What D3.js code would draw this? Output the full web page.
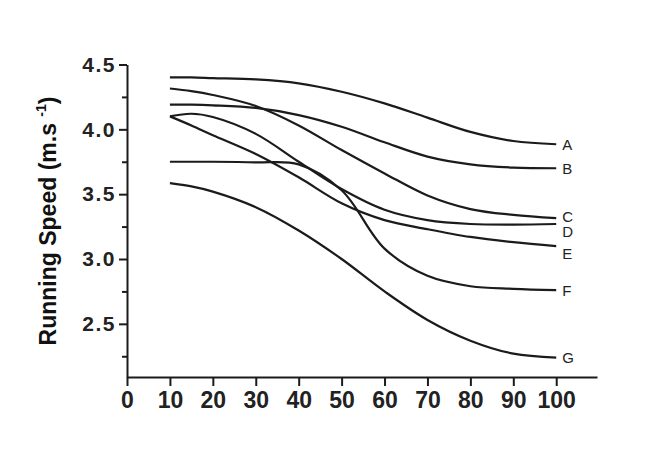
<!DOCTYPE html>
<html>
<head>
<meta charset="utf-8">
<script src="https://cdn.jsdelivr.net/npm/d3@7"></script>
<style>
  body { margin: 0; background: #fff; }
  svg { font-family: "Liberation Sans", Arial, sans-serif; }
</style>
</head>
<body>
<svg width="654" height="464"></svg>
<script>
// distance (% of race) at which each curve is read
const distances = [10, 15, 20, 30, 40, 50, 60, 70, 80, 90, 100]
const seriesNames = ["A", "B", "C", "D", "E", "F", "G"]
const speedA = [4.40, 4.40, 4.395, 4.385, 4.355, 4.29, 4.20, 4.09, 3.98, 3.91, 3.885]
const speedB = [4.19, 4.19, 4.185, 4.165, 4.11, 4.02, 3.90, 3.79, 3.73, 3.705, 3.70]
const speedC = [4.315, 4.295, 4.265, 4.18, 4.03, 3.84, 3.66, 3.49, 3.385, 3.34, 3.315]
const speedD = [4.10, 4.12, 4.095, 3.965, 3.75, 3.54, 3.38, 3.30, 3.27, 3.265, 3.27]
const speedE = [4.10, 4.03, 3.955, 3.81, 3.63, 3.43, 3.30, 3.23, 3.17, 3.13, 3.10]
const speedF = [3.75, 3.75, 3.75, 3.745, 3.73, 3.53, 3.08, 2.87, 2.79, 2.77, 2.76]
const speedG = [3.585, 3.56, 3.52, 3.40, 3.22, 3.00, 2.75, 2.53, 2.37, 2.27, 2.24]
const xTicks = [0, 10, 20, 30, 40, 50, 60, 70, 80, 90, 100]
const yTicks = [2.5, 3.0, 3.5, 4.0, 4.5]
const yMinorTicks = [2.25, 2.75, 3.25, 3.75, 4.25]

const allSpeeds = [speedA, speedB, speedC, speedD, speedE, speedF, speedG]

function draw(){
    const svg = d3.select("svg")
    const ink = "#1b1b1b"

    const x = d3.scaleLinear().domain([0, 109.5]).range([127, 597])
    const y = d3.scaleLinear().domain([2.09, 4.5]).range([377, 64.5])

    // minor y ticks (no labels)
    svg.append("g").attr("transform", "translate(" + 127 + ",0)")
       .call(d3.axisLeft(y).tickValues(yMinorTicks).tickSize(5).tickFormat(""))
       .call(g => g.select(".domain").remove())
       .selectAll("line").attr("stroke", ink).attr("stroke-width", 2)

    // y axis
    const gy = svg.append("g").attr("transform", "translate(" + 127 + ",0)")
       .call(d3.axisLeft(y).tickValues(yTicks).tickSize(8).tickSizeOuter(0).tickPadding(3).tickFormat(d3.format(".1f")))
    gy.select(".domain").attr("stroke", ink).attr("stroke-width", 2)
    gy.selectAll("line").attr("stroke", ink).attr("stroke-width", 2)
    gy.selectAll("text").attr("font-size", 21).attr("font-weight", "bold")
      .attr("letter-spacing", 1.5).attr("fill", "#222")

    // x axis
    const gx = svg.append("g").attr("transform", "translate(0," + 377 + ")")
       .call(d3.axisBottom(x).tickValues(xTicks).tickSize(9).tickSizeOuter(0).tickPadding(6))
    gx.select(".domain").attr("stroke", ink).attr("stroke-width", 2)
    gx.selectAll("line").attr("stroke", ink).attr("stroke-width", 2)
    gx.selectAll("text").attr("font-size", 23).attr("font-weight", "bold").attr("fill", "#222")

    // y title
    const title = svg.append("text")
       .attr("transform", "translate(" + 56 + "," + 221 + ") rotate(-90)")
       .attr("text-anchor", "middle")
       .attr("font-size", 23).attr("font-weight", "bold").attr("fill", "#111")
    title.append("tspan").text("Running Speed (m.s ")
    title.append("tspan").attr("font-size", 14).attr("dy", -10).text("-1")
    title.append("tspan").attr("dy", 10).text(")")

    // curves
    const line = d3.line()
       .x((d, i) => x(distances[i]))
       .y(d => y(d))
       .curve(d3.curveCatmullRom.alpha(0.5))

    svg.append("g").selectAll("path").data(allSpeeds).enter()
       .append("path")
       .attr("d", d => line(d))
       .attr("fill", "none")
       .attr("stroke", ink)
       .attr("stroke-width", 2.2)

    // end labels, C/D/E nudged apart so they don't collide
    const labelShift = {C: -2, D: 8, E: 8}
    svg.append("g").selectAll("text").data(seriesNames).enter()
       .append("text")
       .attr("x", x(100) + 6)
       .attr("y", (d, i) => y(allSpeeds[i][allSpeeds[i].length - 1]) + (labelShift[d] || 0))
       .attr("dy", "0.36em")
       .attr("font-size", 15)
       .attr("fill", "#222")
       .text(d => d)
}

draw()
</script>
</body>
</html>
